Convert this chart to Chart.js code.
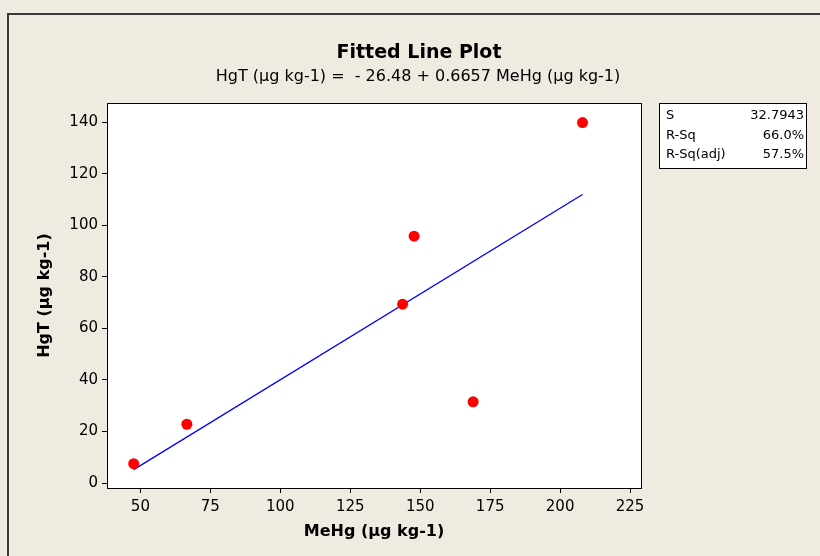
<!DOCTYPE html>
<html lang="en">
<head>
    <meta charset="UTF-8">
    <title>Fitted Line Plot</title>
    <script src="https://cdn.jsdelivr.net/npm/chart.js"></script>
    <style>
        html, body {
            margin: 0;
            padding: 0;
            background: #f0ebe1;
        }
        #plot {
            display: block;
        }
    </style>
</head>
<body>
<canvas id="plot" width="820" height="556"></canvas>
<script>
    // data
    const mehg = [47.6, 66.6, 143.7, 147.8, 168.9, 208.0];
    const hgt = [7.5, 22.8, 69.4, 95.8, 31.5, 139.9];

    // fitted line ends (HgT = -26.48 + 0.6657 MeHg)
    const fitX = [47.6, 208.0];
    const fitY = [5.2, 112.0];

    const xTicks = [50, 75, 100, 125, 150, 175, 200, 225];
    const yTicks = [0, 20, 40, 60, 80, 100, 120, 140];

    const statNames = ['S', 'R-Sq', 'R-Sq(adj)'];
    const statValues = ['32.7943', '66.0%', '57.5%'];

    const fontName = '"DejaVu Sans", sans-serif';

    const decorPlugin = {
        id: 'decor',
        beforeDraw(chart) {
            const ctx = chart.ctx;
            const a = chart.chartArea;
            ctx.save();
            ctx.fillStyle = '#f0ebe1';
            ctx.fillRect(0, 0, chart.width, chart.height);
            // outer frame
            ctx.strokeStyle = '#3a3a3a';
            ctx.lineWidth = 2;
            ctx.beginPath();
            ctx.moveTo(8, chart.height + 5);
            ctx.lineTo(8, 14);
            ctx.lineTo(chart.width + 5, 14);
            ctx.stroke();
            // plot area
            ctx.fillStyle = '#ffffff';
            ctx.fillRect(a.left, a.top, a.right - a.left, a.bottom - a.top);
            ctx.restore();
        },
        afterDraw(chart) {
            const ctx = chart.ctx;
            const a = chart.chartArea;
            ctx.save();
            ctx.strokeStyle = '#000';
            ctx.lineWidth = 1;
            ctx.strokeRect(a.left + 0.5, a.top + 0.5, a.right - a.left, a.bottom - a.top);

            // titles
            ctx.fillStyle = '#000';
            ctx.textAlign = 'center';
            ctx.textBaseline = 'middle';
            ctx.font = 'bold 19px ' + fontName;
            ctx.fillText('Fitted Line Plot', 419, 53);
            ctx.font = '16px ' + fontName;
            ctx.fillText('HgT (µg kg-1) =  - 26.48 + 0.6657 MeHg (µg kg-1)', 418, 77);

            // axis titles
            ctx.font = 'bold 16px ' + fontName;
            ctx.fillText('MeHg (µg kg-1)', (a.left + a.right) / 2, 532);
            ctx.translate(45, (a.top + a.bottom) / 2);
            ctx.rotate(-Math.PI / 2);
            ctx.fillText('HgT (µg kg-1)', 0, 0);
            ctx.setTransform(1, 0, 0, 1, 0, 0);

            // stats box
            ctx.fillStyle = '#fff';
            ctx.fillRect(659, 103, 147, 65);
            ctx.strokeStyle = '#000';
            ctx.strokeRect(659.5, 103.5, 147, 65);
            ctx.fillStyle = '#000';
            ctx.font = '13px ' + fontName;
            for (let i = 0; i < statNames.length; i++) {
                const y = 116 + i * 19.5;
                ctx.textAlign = 'left';
                ctx.fillText(statNames[i], 666, y);
                ctx.textAlign = 'right';
                ctx.fillText(statValues[i], 804, y);
            }
            ctx.restore();
        }
    };

    new Chart(document.getElementById('plot').getContext('2d'), {
        type: 'scatter',
        data: {
            datasets: [{
                label: 'Fit',
                data: fitX.map((x, i) => ({x: x, y: fitY[i]})),
                showLine: true,
                borderColor: '#0000ff',
                borderWidth: 1.3,
                pointRadius: 0,
                fill: false,
                order: 2
            }, {
                label: 'Data',
                data: mehg.map((x, i) => ({x: x, y: hgt[i]})),
                backgroundColor: '#ff0000',
                borderColor: '#ff0000',
                pointRadius: 5.5,
                borderWidth: 0,
                order: 1
            }]
        },
        options: {
            responsive: false,
            animation: false,
            layout: {
                padding: {left: 47, right: 179, top: 103, bottom: 0}
            },
            plugins: {
                legend: {display: false},
                tooltip: {enabled: false}
            },
            scales: {
                x: {
                    type: 'linear',
                    min: 38.06,
                    max: 228.9,
                    afterBuildTicks: s => { s.ticks = xTicks.map(v => ({value: v})); },
                    afterFit: s => { s.height = 68; },
                    grid: {
                        drawOnChartArea: false,
                        drawTicks: true,
                        tickLength: 5,
                        color: '#000'
                    },
                    border: {display: true, color: '#000'},
                    ticks: {
                        color: '#000',
                        padding: 5,
                        maxRotation: 0,
                        font: {family: fontName, size: 15}
                    }
                },
                y: {
                    type: 'linear',
                    min: -1.94,
                    max: 147.5,
                    afterBuildTicks: s => { s.ticks = yTicks.map(v => ({value: v})); },
                    afterFit: s => { s.width = 60; },
                    grid: {
                        drawOnChartArea: false,
                        drawTicks: true,
                        tickLength: 5,
                        color: '#000'
                    },
                    border: {display: true, color: '#000'},
                    ticks: {
                        color: '#000',
                        padding: 4,
                        font: {family: fontName, size: 15}
                    }
                }
            }
        },
        plugins: [decorPlugin]
    });
</script>
</body>
</html>
